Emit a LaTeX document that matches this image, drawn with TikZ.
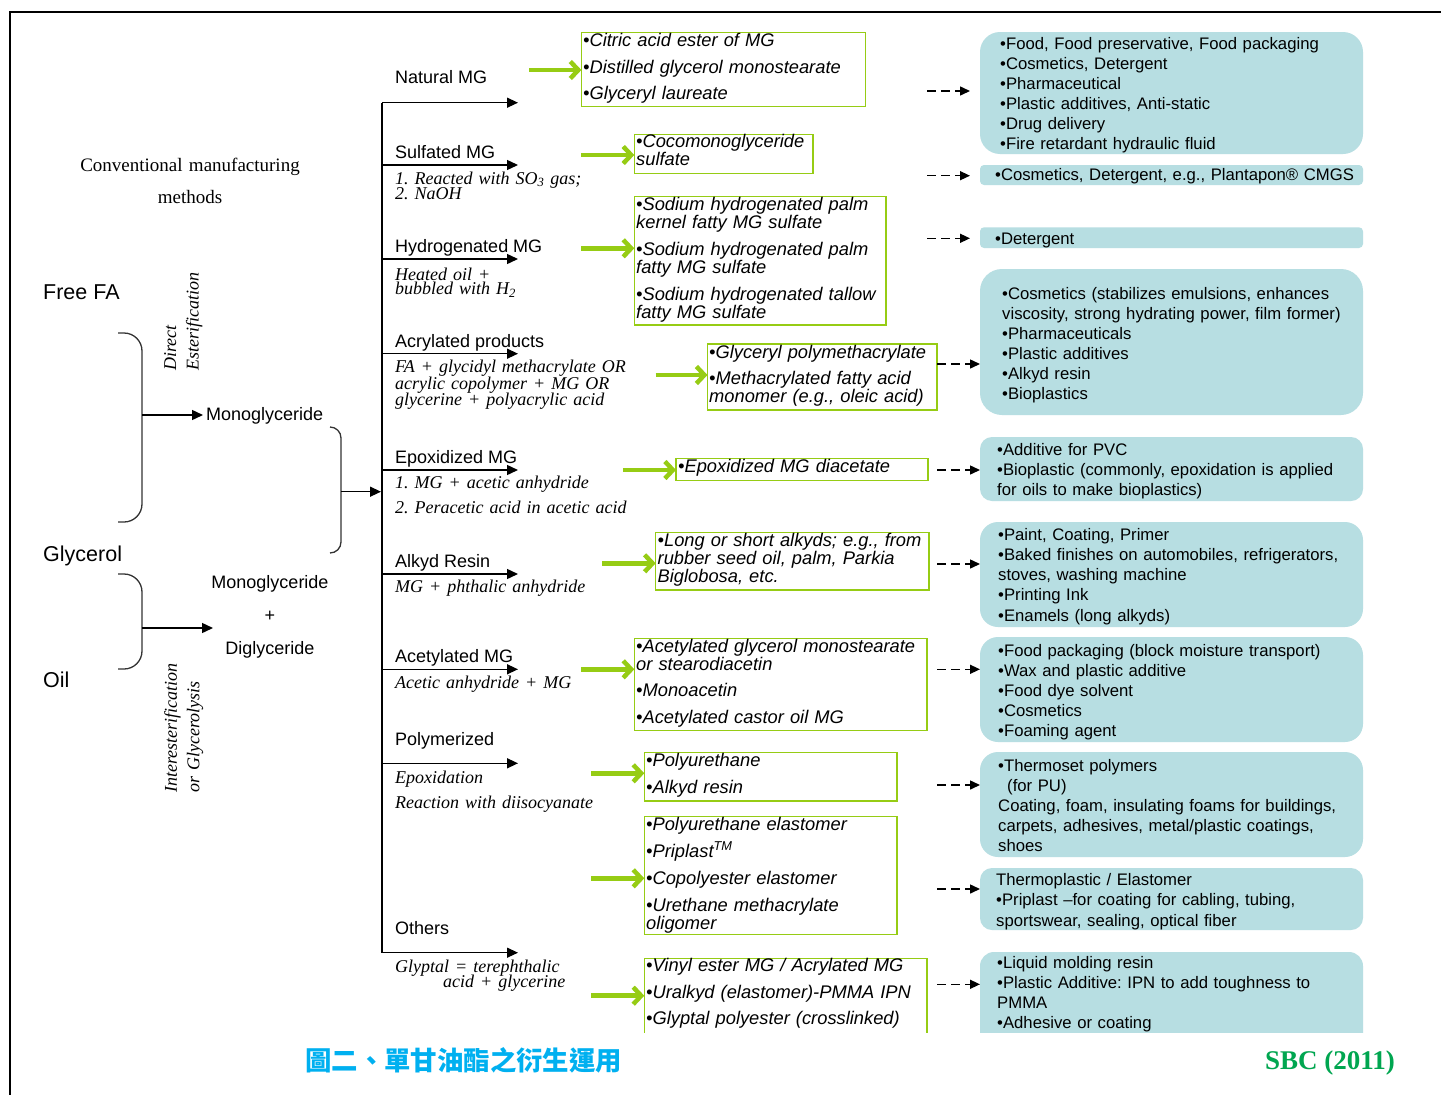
\documentclass[tikz,border=0pt]{standalone}
\usepackage{fontspec}
\setmainfont{Liberation Sans}
\newfontfamily\serifA{Liberation Serif}
\newfontfamily\cjkfont{Noto Sans CJK TC}
\usetikzlibrary{arrows.meta}
\definecolor{bfill}{RGB}{183,222,226}
\definecolor{limeg}{RGB}{150,204,20}
\definecolor{titleblue}{RGB}{0,176,240}
\definecolor{sbcgreen}{RGB}{0,166,80}
\begin{document}
\frenchspacing
\begin{tikzpicture}[x=1pt,y=-1pt,
  lab/.style={font={\fontsize{18}{21}\selectfont}, inner sep=0pt, anchor=base west},
  big/.style={font={\fontsize{21.5}{24}\selectfont}, inner sep=0pt, anchor=base west},
  note/.style={font={\serifA\itshape\fontsize{18}{#1}\selectfont\lineskiplimit=-100pt\frenchspacing}, inner sep=0pt, anchor=base west, text width=320pt, align=left},
  gtxt/.style={font={\itshape\fontsize{18.3}{18}\selectfont\lineskiplimit=-100pt\frenchspacing}, inner sep=0pt, anchor=base west, text width=320pt, align=left},
  btxt/.style={font={\fontsize{16.7}{#1}\selectfont\lineskiplimit=-100pt\frenchspacing}, inner sep=0pt, anchor=base west, text width=380pt, align=left},
  gbox/.style={draw=limeg, line width=1.5pt, fill=white, inner sep=0pt, outer sep=0pt, anchor=north west},
  bbox/.style={fill=bfill, inner sep=0pt, outer sep=0pt, anchor=north west, minimum width=383pt},
  brarr/.style={line width=1.4pt, -{Triangle[length=11pt,width=10pt]}},
  dsharr/.style={line width=1.5pt, dash pattern=on 9pt off 5pt, -{Triangle[length=10pt,width=9pt]}},
  garr/.style={draw=limeg, line width=4.5pt, -{Straight Barb[length=8pt,width=17pt]}},
  brc/.style={line width=1.3pt, draw=black!80, rounded corners=#1},
]
\fill[white] (0,0) rectangle (1441,1095);
\useasboundingbox (0,0) rectangle (1441,1095);

% frame
\coordinate (fa) at (10,1095); \coordinate (fb) at (10,12); \coordinate (fc) at (1441,12);
\draw[line width=2pt] (fa) -- (fb) -- (fc);

% ---------- left part ----------
\node[font={\serifA\fontsize{19}{32}\selectfont}, inner sep=0pt, anchor=base, text width=260pt, align=center] (conv) at (190,171.5) {Conventional manufacturing\\methods};
\node[big] (freefa) at (43,299.2) {Free FA};
\node[big] (glyc) at (43,561) {Glycerol};
\node[big] (oil) at (43,687.7) {Oil};
\node[lab] (mono1) at (206,420.5) {Monoglyceride};
\node[lab, anchor=base, text width=200pt, align=center, font={\fontsize{18}{33.3}\selectfont}] (monodi) at (270,588.2) {Monoglyceride\\+\\Diglyceride};
\node[note=22.5, rotate=90, anchor=north west, text width=200pt] (direst) at (164,371) {Direct\\Esterification};
\node[note=22.5, rotate=90, anchor=north west, text width=200pt] (interest) at (164,793) {Interesterification\\or Glycerolysis};

% braces
\coordinate (b1a) at (118,333); \coordinate (b1b) at (142,333); \coordinate (b1c) at (142,522); \coordinate (b1d) at (118,522);
\draw[brc=18pt] (b1a) -- (b1b) -- (b1c) -- (b1d);
\coordinate (b1m) at (142,415); \coordinate (b1e) at (203,415);
\draw[brarr] (b1m) -- (b1e);
\coordinate (b2a) at (330,427); \coordinate (b2b) at (341,427); \coordinate (b2c) at (341,553); \coordinate (b2d) at (330,553);
\draw[brc=11pt] (b2a) -- (b2b) -- (b2c) -- (b2d);
\coordinate (b2m) at (341,491.7); \coordinate (b2e) at (381,491.7);
\draw[brarr] (b2m) -- (b2e);
\coordinate (b3a) at (118,574); \coordinate (b3b) at (142,574); \coordinate (b3c) at (142,669); \coordinate (b3d) at (118,669);
\draw[brc=18pt] (b3a) -- (b3b) -- (b3c) -- (b3d);
\coordinate (b3m) at (142,628); \coordinate (b3e) at (213,628);
\draw[brarr] (b3m) -- (b3e);

% ---------- trunk and branches ----------
\coordinate (tr1) at (382,102.7); \coordinate (be1) at (518,102.7);
\coordinate (tr2) at (382,165);   \coordinate (be2) at (518,165);
\coordinate (tr3) at (382,259);   \coordinate (be3) at (518,259);
\coordinate (tr4) at (382,353.7); \coordinate (be4) at (518,353.7);
\coordinate (tr5) at (382,470);   \coordinate (be5) at (518,470);
\coordinate (tr6) at (382,574);   \coordinate (be6) at (518,574);
\coordinate (tr7) at (382,669.3); \coordinate (be7) at (518,669.3);
\coordinate (tr8) at (382,763.3); \coordinate (be8) at (518,763.3);
\coordinate (tr9) at (382,952.7); \coordinate (be9) at (518,952.7);
\draw[line width=1.4pt] (tr1) -- (tr9);
\foreach \i in {1,...,9} {\draw[brarr] (tr\i) -- (be\i);}

\node[lab] (natmg) at (395,83.8) {Natural MG};
\node[lab] (sulmg) at (395,158.2) {Sulfated MG};
\node[lab] (hydmg) at (395,252.5) {Hydrogenated MG};
\node[lab] (acrp) at (395,347.2) {Acrylated products};
\node[lab] (epomg) at (395,463.2) {Epoxidized MG};
\node[lab] (alkr) at (395,567.2) {Alkyd Resin};
\node[lab] (acemg) at (395,662.5) {Acetylated MG};
\node[lab] (polym) at (395,745.8) {Polymerized};
\node[lab] (others) at (395,934.8) {Others};

\node[note=15] (n1) at (395,184) {1. Reacted with SO\textsubscript{3} gas;\\2. NaOH};
\node[note=14.5] (n2) at (395,280) {Heated oil +\\bubbled with H\textsubscript{2}};
\node[note=16.3] (n3) at (395,372.7) {FA + glycidyl methacrylate OR\\acrylic copolymer + MG OR\\glycerine + polyacrylic acid};
\node[note=24.6] (n4) at (395,488.7) {1. MG + acetic anhydride\\2. Peracetic acid in acetic acid};
\node[note=18] (n5) at (395,592.7) {MG + phthalic anhydride};
\node[note=18] (n6) at (395,688.3) {Acetic anhydride + MG};
\node[note=25] (n7) at (395,783.3) {Epoxidation\\Reaction with diisocyanate};
\node[note=15.7] (n8) at (395,972) {Glyptal = terephthalic\\\hspace*{48pt}acid + glycerine};

% ---------- green boxes ----------
\node[gbox, minimum width=284.3pt, minimum height=74pt] (gb1) at (581.4,32.7) {};
\node[gbox, minimum width=178.6pt, minimum height=39pt] (gb2) at (634.3,134.3) {};
\node[gbox, minimum width=251.7pt, minimum height=128.3pt] (gb3) at (634.3,196.7) {};
\node[gbox, minimum width=229.5pt, minimum height=66pt] (gb4) at (707.5,344) {};
\node[gbox, minimum width=252pt, minimum height=22.4pt] (gb5) at (676,458.3) {};
\node[gbox, minimum width=273.3pt, minimum height=57.7pt] (gb6) at (655.7,532.3) {};
\node[gbox, minimum width=292.7pt, minimum height=92.4pt] (gb7) at (634.3,638.3) {};
\node[gbox, minimum width=252.5pt, minimum height=48.3pt] (gb8) at (644.3,752.7) {};
\node[gbox, minimum width=252.5pt, minimum height=117.6pt] (gb9) at (644.3,816.7) {};

% ---------- blue boxes ----------
\node[bbox, minimum height=122pt, rounded corners=20pt] (bb1) at (980,32) {};
\node[bbox, minimum height=20pt, rounded corners=4pt] (bb2) at (980,165) {};
\node[bbox, minimum height=20.7pt, rounded corners=4pt] (bb3) at (980,227.3) {};
\node[bbox, minimum height=146pt, rounded corners=22pt] (bb4) at (980,269) {};
\node[bbox, minimum height=64pt, rounded corners=12pt] (bb5) at (980,437) {};
\node[bbox, minimum height=105pt, rounded corners=18pt] (bb6) at (980,522) {};
\node[bbox, minimum height=105pt, rounded corners=18pt] (bb7) at (980,637) {};
\node[bbox, minimum height=105pt, rounded corners=18pt] (bb8) at (980,752) {};
\node[bbox, minimum height=62pt, rounded corners=12pt] (bb9) at (980,868) {};

\begin{scope}
\clip (0,0) rectangle (1441,1032);
\node[gbox, minimum width=282.7pt, minimum height=100pt] (gb10) at (644.3,958.3) {};
\node[bbox, minimum height=100pt, rounded corners=14pt] (bb10) at (980,952) {};
\end{scope}

% ---------- green arrows ----------
\coordinate (ga1) at (529,70);
\coordinate (ga2) at (581.4,155);
\coordinate (ga3) at (581.4,248.3);
\coordinate (ga4) at (655.7,375);
\coordinate (ga5) at (622.9,470);
\coordinate (ga6) at (602,563.3);
\coordinate (ga7) at (581,669.3);
\coordinate (ga8) at (591,773.3);
\coordinate (ga9) at (591,878.3);
\coordinate (ga10) at (591,995.7);
\foreach \i in {1,...,10} {\draw[garr] (ga\i) -- (ga\i -| gb\i.west);}

% ---------- dashed arrows ----------
\coordinate (da1) at (927,91);    \coordinate (de1) at (970,91);
\coordinate (da2) at (927,175.7); \coordinate (de2) at (970,175.7);
\coordinate (da3) at (927,238.3); \coordinate (de3) at (970,238.3);
\draw[dsharr] (da1) -- (de1);
\draw[dsharr] (da2) -- (de2);
\draw[dsharr] (da3) -- (de3);
\coordinate (da4) at (937,364);
\coordinate (da5) at (937,470);
\coordinate (da6) at (937,564);
\coordinate (da7) at (937,669.3);
\coordinate (da8) at (937,785);
\coordinate (da9) at (937,889);
\coordinate (da10) at (937,984.3);
\foreach \i in {4,...,10} {\draw[dsharr] (da\i) -- (da\i -| bb\i.west);}

% ---------- green box texts ----------
\node[gtxt] (g1) at (583,46.5) {•Citric acid ester of MG\\[8.5pt]•Distilled glycerol monostearate\\[8pt]•Glyceryl laureate};
\node[gtxt] (g2) at (636,147.2) {•Cocomonoglyceride\\sulfate};
\node[gtxt] (g3) at (636,210.8) {•Sodium hydrogenated palm\\kernel fatty MG sulfate\\[9pt]•Sodium hydrogenated palm\\fatty MG sulfate\\[9pt]•Sodium hydrogenated tallow\\fatty MG sulfate};
\node[gtxt] (g4) at (709,358.2) {•Glyceryl polymethacrylate\\[8.6pt]•Methacrylated fatty acid\\monomer (e.g., oleic acid)};
\node[gtxt] (g5) at (678,472.2) {•Epoxidized MG diacetate};
\node[gtxt] (g6) at (657.5,546.5) {•Long or short alkyds; e.g., from\\rubber seed oil, palm, Parkia\\Biglobosa, etc.};
\node[gtxt] (g7) at (636,652.5) {•Acetylated glycerol monostearate\\or stearodiacetin\\[8pt]•Monoacetin\\[9.3pt]•Acetylated castor oil MG};
\node[gtxt] (g8) at (646,766.5) {•Polyurethane\\[9.3pt]•Alkyd resin};
\node[gtxt] (g9) at (646,830.5) {•Polyurethane elastomer\\[8.7pt]•Priplast\textsuperscript{TM}\\[9pt]•Copolyester elastomer\\[9.3pt]•Urethane methacrylate\\oligomer};
\node[gtxt] (g10) at (646,971.5) {•Vinyl ester MG / Acrylated MG\\[8.7pt]•Uralkyd (elastomer)-PMMA IPN\\[8pt]•Glyptal polyester (crosslinked)};

% ---------- blue box texts ----------
\node[btxt=20] (t1) at (1000,49.3) {•Food, Food preservative, Food packaging\\•Cosmetics, Detergent\\•Pharmaceutical\\•Plastic additives, Anti-static\\•Drug delivery\\•Fire retardant hydraulic fluid};
\node[btxt=20] (t2) at (995,180.3) {•Cosmetics, Detergent, e.g., Plantapon® CMGS};
\node[btxt=20] (t3) at (995,244.3) {•Detergent};
\node[btxt=20] (t4) at (1002,299.3) {•Cosmetics (stabilizes emulsions, enhances\\viscosity, strong hydrating power, film former)\\•Pharmaceuticals\\•Plastic additives\\•Alkyd resin\\•Bioplastics};
\node[btxt=20.3] (t5) at (997,455.3) {•Additive for PVC\\•Bioplastic (commonly, epoxidation is applied\\for oils to make bioplastics)};
\node[btxt=20.25] (t6) at (998,540) {•Paint, Coating, Primer\\•Baked finishes on automobiles, refrigerators,\\stoves, washing machine\\•Printing Ink\\•Enamels (long alkyds)};
\node[btxt=20] (t7) at (998,656) {•Food packaging (block moisture transport)\\•Wax and plastic additive\\•Food dye solvent\\•Cosmetics\\•Foaming agent};
\node[btxt=20] (t8) at (998,771) {•Thermoset polymers\\\hspace*{9pt}(for PU)\\Coating, foam, insulating foams for buildings,\\carpets, adhesives, metal/plastic coatings,\\shoes};
\node[btxt=20.5] (t9) at (996,885) {Thermoplastic / Elastomer\\•Priplast –for coating for cabling, tubing,\\sportswear, sealing, optical fiber};
\node[btxt=20.1] (t10) at (997,968.3) {•Liquid molding resin\\•Plastic Additive: IPN to add toughness to\\PMMA\\•Adhesive or coating};

% ---------- captions ----------
\node[font={\cjkfont\bfseries\fontsize{26.4}{30}\selectfont}, text=titleblue, inner sep=0pt, anchor=base west] (title) at (305,1070.5) {圖二、單甘油酯之衍生運用};
\node[font={\serifA\bfseries\fontsize{27}{30}\selectfont}, text=sbcgreen, inner sep=0pt, anchor=base west] (sbc) at (1265,1069) {SBC (2011)};
\end{tikzpicture}
\end{document}
